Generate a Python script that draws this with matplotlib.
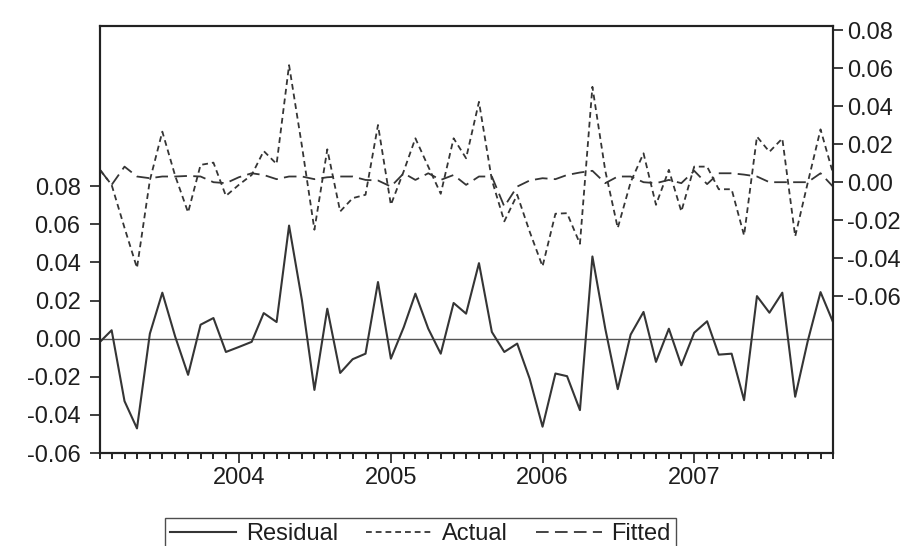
"""
Residual / Actual / Fitted plot (EViews style), monthly 2003M02 - 2007M12
"""
import numpy as np
import pandas as pd
import matplotlib
matplotlib.use('Agg')
import matplotlib.pyplot as plt
import matplotlib.dates as mdates

plt.rcParams['font.family'] = ['Liberation Sans', 'DejaVu Sans']

dates = pd.date_range('2003-02-01', periods=59, freq='MS')

residual = [-0.0017, 0.0044, -0.0328, -0.0471, 0.0026, 0.0241, 0.0010, -0.0190, 0.0073, 0.0108,
            -0.0070, -0.0044, -0.0017, 0.0134, 0.0087, 0.0593, 0.0201, -0.0269, 0.0157, -0.0180,
            -0.0108, -0.0079, 0.0297, -0.0105, 0.0060, 0.0236, 0.0052, -0.0079, 0.0187, 0.0131,
            0.0396, 0.0035, -0.0070, -0.0026, -0.0210, -0.0462, -0.0183, -0.0197, -0.0375, 0.0431,
            0.0052, -0.0265, 0.0021, 0.0140, -0.0122, 0.0052, -0.0140, 0.0031, 0.0091, -0.0084,
            -0.0079, -0.0323, 0.0223, 0.0136, 0.0241, -0.0305, -0.0015, 0.0244, 0.0087]

actual = [0.0065, -0.0014, -0.0240, -0.0451, 0.0010, 0.0266, 0.0033, -0.0159, 0.0091, 0.0103,
          -0.0072, -0.0014, 0.0038, 0.0164, 0.0096, 0.0616, 0.0190, -0.0250, 0.0173, -0.0154,
          -0.0084, -0.0066, 0.0301, -0.0119, 0.0058, 0.0231, 0.0082, -0.0061, 0.0231, 0.0126,
          0.0423, 0.0012, -0.0206, -0.0066, -0.0260, -0.0443, -0.0166, -0.0163, -0.0324, 0.0502,
          0.0060, -0.0241, 0.0000, 0.0152, -0.0119, 0.0065, -0.0154, 0.0082, 0.0082, -0.0037,
          -0.0037, -0.0280, 0.0240, 0.0160, 0.0230, -0.0285, -0.0005, 0.0278, 0.0047]

fitted = [0.0065, -0.0014, 0.0082, 0.0030, 0.0021, 0.0030, 0.0030, 0.0033, 0.0030, 0.0000,
          -0.0005, 0.0026, 0.0047, 0.0038, 0.0016, 0.0030, 0.0030, 0.0016, 0.0026, 0.0030,
          0.0030, 0.0012, 0.0009, -0.0023, 0.0047, 0.0012, 0.0047, 0.0012, 0.0038, -0.0014,
          0.0030, 0.0030, -0.0128, -0.0023, 0.0009, 0.0021, 0.0016, 0.0038, 0.0051, 0.0060,
          -0.0005, 0.0030, 0.0030, 0.0000, -0.0005, 0.0012, -0.0005, 0.0060, -0.0010, 0.0047,
          0.0047, 0.0040, 0.0030, 0.0000, 0.0000, 0.0000, 0.0000, 0.0047, -0.0023]

left_ticks = [-0.06, -0.04, -0.02, 0.00, 0.02, 0.04, 0.06, 0.08]
right_ticks = [-0.06, -0.04, -0.02, 0.00, 0.02, 0.04, 0.06, 0.08]

line_col = '#353535'
text_col = '#1e1e1e'
fs = 17

fig = plt.figure(figsize=(9.23, 5.46), dpi=100)
ax = fig.add_axes([100 / 923, 1 - 453 / 546, 733 / 923, 427 / 546])
ax2 = ax.twinx()

# residual on the left scale, with its zero line
ax.axhline(0, color='#555555', lw=1.0)
l_res, = ax.plot(dates, residual, color=line_col, lw=1.5, label='Residual')

# actual and fitted on the right scale
l_act, = ax2.plot(dates, actual, color=line_col, lw=1.3, linestyle=(0, (3.2, 2.2)), label='Actual')
l_fit, = ax2.plot(dates, fitted, color=line_col, lw=1.3, linestyle=(0, (7, 3.5)), label='Fitted')

ax.set_xlim(dates[0], dates[-1])
ax.set_ylim(-0.06, 0.164)
ax2.set_ylim(-0.1425, 0.0822)

ax.set_yticks(left_ticks)
ax.set_yticklabels([f'{v:.2f}' for v in left_ticks])
ax2.set_yticks(right_ticks)
ax2.set_yticklabels([f'{v:.2f}' for v in right_ticks])

ax.xaxis.set_major_locator(mdates.YearLocator())
ax.xaxis.set_major_formatter(mdates.DateFormatter('%Y'))
ax.xaxis.set_minor_locator(mdates.MonthLocator())

ax.tick_params(axis='x', which='major', length=7, width=1.2, pad=3,
               labelsize=fs, colors=text_col)
ax.tick_params(axis='x', which='minor', length=4, width=1.2)
ax.tick_params(axis='y', length=7, width=1.2, pad=7, labelsize=fs, colors=text_col)
ax2.tick_params(axis='y', length=7, width=1.2, pad=3, labelsize=fs, colors=text_col)

for a in (ax, ax2):
    for s in a.spines.values():
        s.set_linewidth(1.5)
        s.set_color('#222222')

fig.legend(handles=[l_res, l_act, l_fit], loc='upper left',
           bbox_to_anchor=(165 / 923, 1 - 518 / 546), ncol=3, fontsize=fs,
           frameon=True, fancybox=False, edgecolor='#222222', handlelength=2.8,
           columnspacing=1.2, handletextpad=0.4, borderpad=0.22, borderaxespad=0,
           labelcolor=text_col)

plt.savefig('out.png', dpi=100)
